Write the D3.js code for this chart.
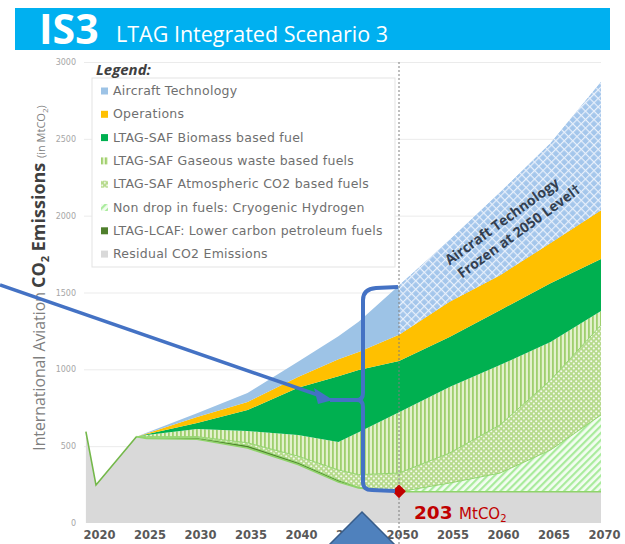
<!DOCTYPE html>
<html>
<head>
<meta charset="utf-8">
<script src="https://cdn.jsdelivr.net/npm/d3@7"></script>
<style>
  body { margin: 0; background: #fff; }
  svg { display: block; font-family: "Open Sans", "DejaVu Sans", sans-serif; }
</style>
</head>
<body>
<div id="chart"></div>
<script>
// data (MtCO2)
const years       = [2019, 2020, 2024, 2025, 2030, 2035, 2040, 2044, 2046, 2050, 2055, 2060, 2065, 2070];
const residual    = [595, 247, 562, 550, 545, 488, 380, 267, 228, 203, 203, 203, 203, 203];
const lcaf        = [0, 0, 0, 5, 10, 17, 15, 13, 4, 0, 0, 0, 0, 0];
const hydrogen    = [0, 0, 0, 0, 0, 0, 0, 0, 0, 0, 57, 122, 272, 500];
const atmospheric = [0, 0, 0, 7, 7, 17, 40, 65, 83, 122, 195, 313, 455, 585];
const gaseous     = [0, 0, 0, 10, 49, 76, 137, 182, 275, 395, 430, 390, 248, 92];
const biomass     = [0, 0, 0, 6, 39, 137, 308, 428, 405, 335, 325, 357, 382, 338];
const operations  = [0, 0, 0, 5, 40, 52, 70, 110, 118, 170, 230, 228, 262, 318];
const aircraft    = [0, 0, 0, 5, 25, 59, 100, 150, 197, 320, 401, 537, 650, 834];

const xTicks = [2020, 2025, 2030, 2035, 2040, 2045, 2050, 2055, 2060, 2065, 2070];
const yTicks = [0, 500, 1000, 1500, 2000, 2500, 3000];
const freezeYear = 2050;
const residual2050 = 203;

const legendItems = [
  { key: "aircraft", label: "Aircraft Technology" },
  { key: "operations", label: "Operations" },
  { key: "biomass", label: "LTAG-SAF Biomass based fuel" },
  { key: "gaseous", label: "LTAG-SAF Gaseous waste based fuels" },
  { key: "atmospheric", label: "LTAG-SAF Atmospheric CO2 based fuels" },
  { key: "hydrogen", label: "Non drop in fuels: Cryogenic Hydrogen" },
  { key: "lcaf", label: "LTAG-LCAF: Lower carbon petroleum fuels" },
  { key: "residual", label: "Residual CO2 Emissions" }
];

const keys = ["residual", "lcaf", "hydrogen", "atmospheric", "gaseous", "biomass", "operations", "aircraft"];
const table = years.map((yr, i) => ({
  year: yr, residual: residual[i], lcaf: lcaf[i], hydrogen: hydrogen[i],
  atmospheric: atmospheric[i], gaseous: gaseous[i], biomass: biomass[i],
  operations: operations[i], aircraft: aircraft[i]
}));

const wide = "'DejaVu Sans', sans-serif";
const W = 625, H = 544;
const svg = d3.select("#chart").append("svg").attr("width", W).attr("height", H);
const defs = svg.append("defs");

// patterns
function pat(id, w, h, tr) {
  const p = defs.append("pattern").attr("id", id)
    .attr("width", w).attr("height", h).attr("patternUnits", "userSpaceOnUse");
  if (tr) p.attr("patternTransform", tr);
  return p;
}
let p = pat("pAir", 6, 6, "rotate(45)");
p.append("rect").attr("width", 6).attr("height", 6).attr("fill", "#a4c6eb");
p.append("rect").attr("width", 6).attr("height", 1.2).attr("fill", "#e8f0fb");
p.append("rect").attr("width", 1.2).attr("height", 6).attr("fill", "#e8f0fb");

p = pat("pGas", 4, 4);
p.append("rect").attr("width", 4).attr("height", 4).attr("fill", "#e3f1cc");
p.append("rect").attr("width", 1.8).attr("height", 4).attr("fill", "#9fcf6e");

p = pat("pAtm", 5, 5);
p.append("rect").attr("width", 5).attr("height", 5).attr("fill", "#b6da8c");
p.append("circle").attr("cx", 1.2).attr("cy", 1.3).attr("r", 1.05).attr("fill", "#f4faee");
p.append("circle").attr("cx", 3.8).attr("cy", 3.6).attr("r", 1.05).attr("fill", "#f4faee");

p = pat("pH2", 5, 5, "rotate(45)");
p.append("rect").attr("width", 5).attr("height", 5).attr("fill", "#f3fdf1");
p.append("rect").attr("width", 2.2).attr("height", 5).attr("fill", "#a9eb9c");

const fills = {
  aircraft: "#9dc3e6", operations: "#ffc000", biomass: "#00b050",
  gaseous: "url(#pGas)", atmospheric: "url(#pAtm)", hydrogen: "url(#pH2)",
  lcaf: "#4f7f2c", residual: "#d9d9d9"
};

// header band
svg.append("rect").attr("x", 15).attr("y", 8).attr("width", 595).attr("height", 42).attr("fill", "#00b0f0");
svg.append("text").attr("x", 39).attr("y", 44).attr("fill", "#fff")
  .style("font-size", "41px").style("font-weight", "700").text("IS3");
svg.append("text").attr("x", 116).attr("y", 42).attr("fill", "#fff")
  .style("font-size", "21.5px").text("LTAG Integrated Scenario 3");

// scales
const x = d3.scaleLinear().domain([2020, 2070]).range([96, 601]);
const y = d3.scaleLinear().domain([0, 3000]).range([523, 62]);

// grid lines
svg.append("g")
  .attr("transform", "translate(84,0)")
  .call(d3.axisLeft(y).tickValues(yTicks.slice(1)).tickSize(-(601 - 84)).tickFormat(""))
  .call(g => g.select(".domain").remove())
  .selectAll(".tick line").attr("stroke", "#ebebeb");

// y tick labels
svg.append("g")
  .attr("transform", "translate(80,0)")
  .call(d3.axisLeft(y).tickValues(yTicks).tickFormat(d3.format("d")).tickSize(0).tickPadding(4))
  .call(g => g.select(".domain").remove())
  .selectAll("text").attr("fill", "#a6a6a6").style("font-family", wide).style("font-size", "8px");

// legend box (sits on the grid)
svg.append("rect").attr("x", 92).attr("y", 78).attr("width", 303).attr("height", 189)
  .attr("fill", "#fff").attr("stroke", "#e3e3e3");

// stacked areas
const series = d3.stack().keys(keys)(table);
const area = d3.area()
  .x(d => x(d.data.year))
  .y0(d => y(d[0]))
  .y1(d => y(d[1]));
const topLine = d3.line().x(d => x(d.data.year)).y(d => y(d[1]));

const plot = svg.append("g");
series.forEach(s => {
  plot.append("path").datum(s).attr("d", area).attr("fill", fills[s.key]);
});

// aircraft after 2050: frozen, hatched
defs.append("clipPath").attr("id", "after2050").append("rect")
  .attr("x", x(freezeYear)).attr("y", 0).attr("width", W).attr("height", H);
plot.append("path").datum(series[keys.indexOf("aircraft")]).attr("d", area)
  .attr("fill", "url(#pAir)").attr("clip-path", "url(#after2050)");

// light green outlines on the lower layers
const early = d => d.data.year <= 2024;
const late = d => d.data.year >= 2024;
["atmospheric", "hydrogen"].forEach(k => {
  plot.append("path").datum(series[keys.indexOf(k)].filter(late)).attr("d", topLine)
    .attr("fill", "none").attr("stroke", "#93d56f").attr("stroke-width", 1);
});
plot.append("path").datum(series[0].filter(late)).attr("d", topLine)
  .attr("fill", "none").attr("stroke", "#8fd46a").attr("stroke-width", 1.6);
plot.append("path").datum(series[0].filter(early)).attr("d", topLine)
  .attr("fill", "none").attr("stroke", "#74b84a").attr("stroke-width", 1.6);

// 2050 marker line
svg.append("line").attr("x1", x(freezeYear)).attr("x2", x(freezeYear)).attr("y1", 62).attr("y2", H)
  .attr("stroke", "#7f7f7f").attr("stroke-width", 1).attr("stroke-dasharray", "2,2");

// x axis
svg.append("g")
  .attr("transform", "translate(3,523)")
  .call(d3.axisBottom(x).tickValues(xTicks).tickFormat(d3.format("d")).tickSize(0).tickPadding(8))
  .call(g => g.select(".domain").remove())
  .selectAll("text").attr("fill", "#595959").style("font-family", wide)
  .style("font-size", "11.5px").style("font-weight", "700");

// y axis title
const yt = svg.append("text").attr("transform", "translate(45,278) rotate(-90)")
  .attr("text-anchor", "middle").attr("fill", "#7f7f7f");
yt.append("tspan").style("font-size", "15.8px").text("International Aviation ");
yt.append("tspan").style("font-size", "18px").style("font-weight", "700").attr("fill", "#404040").text("CO");
yt.append("tspan").style("font-size", "11px").style("font-weight", "700").attr("fill", "#404040").attr("dy", 4).text("2");
yt.append("tspan").style("font-size", "18px").style("font-weight", "700").attr("fill", "#404040").attr("dy", -4).text(" Emissions ");
yt.append("tspan").style("font-size", "11px").text("(in MtCO");
yt.append("tspan").style("font-size", "8px").attr("dy", 3).text("2");
yt.append("tspan").style("font-size", "11px").attr("dy", -3).text(")");

// legend
svg.append("text").attr("x", 96).attr("y", 75).attr("fill", "#404040")
  .style("font-size", "15px").style("font-weight", "700").style("font-style", "italic").text("Legend:");
const lg = svg.append("g").selectAll("g").data(legendItems).enter().append("g")
  .attr("transform", (d, i) => `translate(101,${91 + i * 23.3})`);
lg.append("rect").attr("x", 0).attr("y", -3.5).attr("width", 7).attr("height", 7)
  .attr("fill", d => d.key === "aircraft" ? "#9dc3e6" : fills[d.key]);
lg.append("text").attr("x", 12).attr("y", 4).attr("fill", "#6f6f6f")
  .style("font-family", wide).style("font-size", "12.5px").style("letter-spacing", "0.25px")
  .text(d => d.label);

// frozen note
const note = svg.append("text").attr("transform", "translate(509,231) rotate(-36)")
  .attr("text-anchor", "middle").attr("fill", "#333f50")
  .style("font-size", "14px").style("font-weight", "700");
note.append("tspan").attr("x", 0).attr("y", -7).text("Aircraft Technology");
note.append("tspan").attr("x", 8).attr("y", 11).text("Frozen at 2050 Level†");

// 203 MtCO2 marker
svg.append("path")
  .attr("d", d3.symbol().type(d3.symbolSquare).size(95)())
  .attr("transform", `translate(${x(freezeYear)},${y(residual2050) - 0.5}) rotate(45)`)
  .attr("fill", "#c00000");
const lbl = svg.append("text").attr("x", 414).attr("y", 519).attr("fill", "#c00000")
  .style("font-family", wide);
lbl.append("tspan").style("font-size", "18.5px").style("font-weight", "700").text(residual2050 + " ");
lbl.append("tspan").style("font-size", "15px").text("MtCO");
lbl.append("tspan").style("font-size", "10px").attr("dy", 3).text("2");

// blue callout arrow and bracket
const blue = "#4472c4";
svg.append("path").attr("d", "M0,285 L318,395")
  .attr("stroke", blue).attr("stroke-width", 3.5).attr("fill", "none");
svg.append("path").attr("d", "M333,400 L314,388 L318,404 Z").attr("fill", blue);
svg.append("path")
  .attr("d", "M330,400 L357,400 Q363,400 363,393 L363,300 Q363,289 376,288 L398,287 " +
             "M357,400 Q363,400 363,407 L363,482 Q363,490 372,490 L395,491")
  .attr("stroke", blue).attr("stroke-width", 4).attr("fill", "none").attr("stroke-linejoin", "round");

// big arrow at the bottom
svg.append("path").attr("d", "M362,512 L396,546 L328,546 Z")
  .attr("fill", "#4f81bd").attr("stroke", "#385d8a").attr("stroke-width", 1.5);
</script>
</body>
</html>
